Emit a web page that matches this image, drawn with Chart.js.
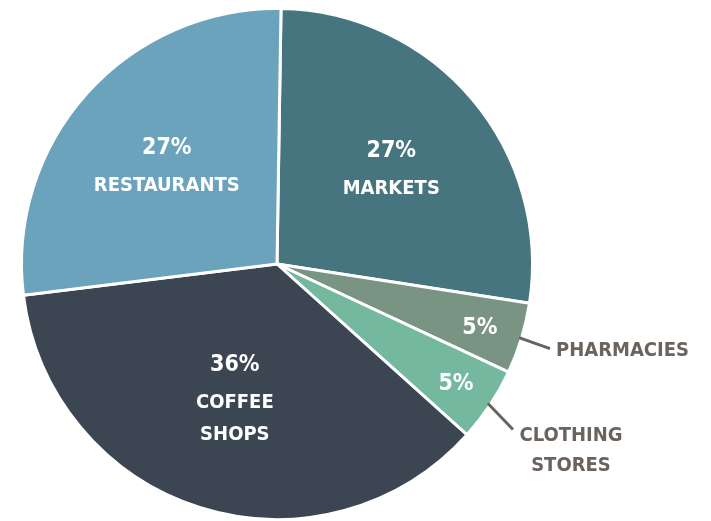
<!DOCTYPE html>
<html>
<head>
<meta charset="utf-8">
<style>
  html, body { margin: 0; padding: 0; background: #ffffff; }
  #wrap { width: 711px; height: 521px; }
</style>
<script src="https://cdn.jsdelivr.net/npm/chart.js@4/dist/chart.umd.min.js"></script>
</head>
<body>
<div id="wrap"><canvas id="pieChart"></canvas></div>
<script>
// data, clockwise from the top
const categories = ['MARKETS', 'PHARMACIES', 'CLOTHING STORES', 'COFFEE SHOPS', 'RESTAURANTS'];
const shares = [27.2, 4.5, 4.7, 36.4, 27.2];
const sliceColors = ['#46747f', '#7a9484', '#74b8a0', '#3b4652', '#6aa3bb'];

// label layout per slice: inside (white) or outside with leader line
const labelSetup = [
    { lines: ['MARKETS'], f: 0.585 },
    { lines: [], f: 0.83, outside: { lines: ['PHARMACIES'], dx: 31, dy: 11, align: 'left' } },
    { lines: [], f: 0.84, outside: { lines: ['CLOTHING', 'STORES'], dx: 25, dy: 26, align: 'center' } },
    { lines: ['COFFEE', 'SHOPS'], f: 0.55 },
    { lines: ['RESTAURANTS'], f: 0.58 }
];

const FONT = '"DejaVu Sans Condensed", "DejaVu Sans", sans-serif';

const pieLabels = {
    id: 'pieLabels',
    afterDatasetsDraw(chart) {
        const ctx = chart.ctx;
        const meta = chart.getDatasetMeta(0);
        meta.data.forEach(function (arc, i) {
            const p = arc.getProps(['x', 'y', 'startAngle', 'endAngle', 'outerRadius']);
            const mid = (p.startAngle + p.endAngle) / 2;
            const setup = labelSetup[i];
            const r = p.outerRadius * setup.f;
            const cx = p.x + Math.cos(mid) * r;
            const cy = p.y + Math.sin(mid) * r + 2;

            const lines = [Math.round(shares[i]) + '%'].concat(setup.lines);
            // y offsets: percent, then names
            const ys = [0];
            for (let k = 1; k < lines.length; k++) ys.push(ys[k - 1] + (k === 1 ? 38 : 32));
            const shift = ys[ys.length - 1] / 2;
            ctx.save();
            ctx.fillStyle = '#ffffff';
            ctx.textAlign = 'center';
            ctx.textBaseline = 'middle';
            lines.forEach(function (t, k) {
                ctx.font = (k === 0 ? 'bold 23px ' : 'bold 20px ') + FONT;
                ctx.fillText(t, cx, cy - shift + ys[k]);
            });

            if (setup.outside) {
                const o = setup.outside;
                const sx = p.x + Math.cos(mid) * p.outerRadius * 0.99;
                const sy = p.y + Math.sin(mid) * p.outerRadius * 0.99;
                const ex = sx + o.dx;
                const ey = sy + o.dy;
                ctx.strokeStyle = '#6b635e';
                ctx.lineWidth = 3;
                ctx.beginPath();
                ctx.moveTo(sx, sy);
                ctx.lineTo(ex, ey);
                ctx.stroke();
                ctx.fillStyle = '#6b635e';
                ctx.font = 'bold 20px ' + FONT;
                if (o.align === 'left') {
                    ctx.textAlign = 'left';
                    ctx.fillText(o.lines[0], ex + 6, ey + 2);
                } else {
                    ctx.textAlign = 'center';
                    o.lines.forEach(function (t, k) {
                        ctx.fillText(t, ex + 58, ey + 6 + k * 30);
                    });
                }
            }
            ctx.restore();
        });
    }
};

document.addEventListener('DOMContentLoaded', function () {
    const pieEl = document.getElementById('pieChart');
    new Chart(pieEl, {
        type: 'pie',
        data: {
            labels: categories,
            datasets: [{
                data: shares,
                backgroundColor: sliceColors,
                borderColor: '#ffffff',
                borderWidth: 3
            }]
        },
        options: {
            responsive: true,
            maintainAspectRatio: false,
            animation: false,
            rotation: 0.9,
            layout: { padding: { left: 20, right: 177, top: 7, bottom: 0 } },
            plugins: {
                legend: { display: false },
                tooltip: { enabled: false }
            }
        },
        plugins: [pieLabels]
    });
});
</script>
</body>
</html>
